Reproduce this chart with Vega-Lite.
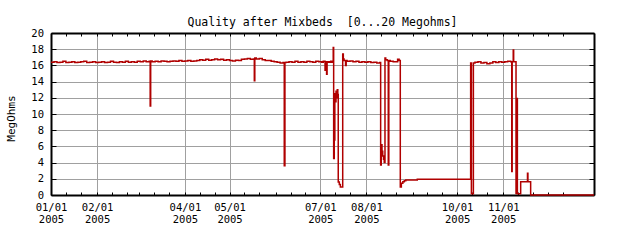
{
  "$schema": "https://vega.github.io/schema/vega-lite/v6.json",
  "width": 543,
  "height": 162,
  "autosize": "none",
  "padding": {"left": 51, "top": 33, "right": 46, "bottom": 45},
  "background": "white",
  "title": {"text": "Quality after Mixbeds\u00a0 [0...20 Megohms]", "font": "DejaVu Sans Mono", "fontSize": 11.5, "fontWeight": "normal", "color": "black", "anchor": "middle", "offset": 10, "baseline": "alphabetic", "dy": 19},
  "config": {"view": {"stroke": null}},
  "data": {"values": [
    {"t": "2005-01-01T00:00:00", "v": 16.4}, {"t": "2005-01-03T00:00:00", "v": 16.45}, {"t": "2005-01-05T00:00:00", "v": 16.35}, {"t": "2005-01-07T00:00:00", "v": 16.4},
    {"t": "2005-01-09T00:00:00", "v": 16.5}, {"t": "2005-01-11T00:00:00", "v": 16.35}, {"t": "2005-01-13T00:00:00", "v": 16.4}, {"t": "2005-01-15T00:00:00", "v": 16.45},
    {"t": "2005-01-17T00:00:00", "v": 16.35}, {"t": "2005-01-19T00:00:00", "v": 16.4}, {"t": "2005-01-21T00:00:00", "v": 16.45}, {"t": "2005-01-23T00:00:00", "v": 16.5},
    {"t": "2005-01-25T00:00:00", "v": 16.35}, {"t": "2005-01-27T00:00:00", "v": 16.4}, {"t": "2005-01-29T00:00:00", "v": 16.45}, {"t": "2005-01-31T00:00:00", "v": 16.35},
    {"t": "2005-02-02T00:00:00", "v": 16.4}, {"t": "2005-02-04T00:00:00", "v": 16.45}, {"t": "2005-02-06T00:00:00", "v": 16.35}, {"t": "2005-02-08T00:00:00", "v": 16.4},
    {"t": "2005-02-10T00:00:00", "v": 16.5}, {"t": "2005-02-12T00:00:00", "v": 16.4}, {"t": "2005-02-14T00:00:00", "v": 16.35}, {"t": "2005-02-16T00:00:00", "v": 16.45},
    {"t": "2005-02-18T00:00:00", "v": 16.4}, {"t": "2005-02-20T00:00:00", "v": 16.5}, {"t": "2005-02-22T00:00:00", "v": 16.4}, {"t": "2005-02-24T00:00:00", "v": 16.45},
    {"t": "2005-02-26T00:00:00", "v": 16.4}, {"t": "2005-02-28T00:00:00", "v": 16.5}, {"t": "2005-03-02T00:00:00", "v": 16.45}, {"t": "2005-03-04T00:00:00", "v": 16.55},
    {"t": "2005-03-06T00:00:00", "v": 16.45}, {"t": "2005-03-08T00:00:00", "v": 16.5}, {"t": "2005-03-08T16:00:00", "v": 11.0}, {"t": "2005-03-09T00:00:00", "v": 16.55},
    {"t": "2005-03-10T00:00:00", "v": 16.45}, {"t": "2005-03-12T00:00:00", "v": 16.5}, {"t": "2005-03-14T00:00:00", "v": 16.45}, {"t": "2005-03-16T00:00:00", "v": 16.55},
    {"t": "2005-03-18T00:00:00", "v": 16.5}, {"t": "2005-03-20T00:00:00", "v": 16.45}, {"t": "2005-03-22T00:00:00", "v": 16.5}, {"t": "2005-03-24T00:00:00", "v": 16.55},
    {"t": "2005-03-26T00:00:00", "v": 16.5}, {"t": "2005-03-28T00:00:00", "v": 16.6}, {"t": "2005-03-30T00:00:00", "v": 16.5}, {"t": "2005-04-01T00:00:00", "v": 16.55},
    {"t": "2005-04-03T00:00:00", "v": 16.6}, {"t": "2005-04-05T00:00:00", "v": 16.5}, {"t": "2005-04-07T00:00:00", "v": 16.55}, {"t": "2005-04-09T00:00:00", "v": 16.6},
    {"t": "2005-04-11T00:00:00", "v": 16.7}, {"t": "2005-04-13T00:00:00", "v": 16.65}, {"t": "2005-04-15T00:00:00", "v": 16.75}, {"t": "2005-04-17T00:00:00", "v": 16.65},
    {"t": "2005-04-19T00:00:00", "v": 16.7}, {"t": "2005-04-21T00:00:00", "v": 16.8}, {"t": "2005-04-23T00:00:00", "v": 16.7}, {"t": "2005-04-25T00:00:00", "v": 16.75},
    {"t": "2005-04-27T00:00:00", "v": 16.65}, {"t": "2005-04-29T00:00:00", "v": 16.7}, {"t": "2005-05-01T00:00:00", "v": 16.6}, {"t": "2005-05-03T00:00:00", "v": 16.55},
    {"t": "2005-05-05T00:00:00", "v": 16.65}, {"t": "2005-05-07T00:00:00", "v": 16.6}, {"t": "2005-05-09T00:00:00", "v": 16.75}, {"t": "2005-05-11T00:00:00", "v": 16.8},
    {"t": "2005-05-13T00:00:00", "v": 16.85}, {"t": "2005-05-15T00:00:00", "v": 16.75}, {"t": "2005-05-17T00:00:00", "v": 16.8}, {"t": "2005-05-17T16:00:00", "v": 14.1},
    {"t": "2005-05-18T00:00:00", "v": 16.9}, {"t": "2005-05-19T00:00:00", "v": 16.8}, {"t": "2005-05-21T00:00:00", "v": 16.85}, {"t": "2005-05-23T00:00:00", "v": 16.7},
    {"t": "2005-05-25T00:00:00", "v": 16.6}, {"t": "2005-05-27T00:00:00", "v": 16.6}, {"t": "2005-05-29T00:00:00", "v": 16.5}, {"t": "2005-05-31T00:00:00", "v": 16.45},
    {"t": "2005-06-02T00:00:00", "v": 16.4}, {"t": "2005-06-04T00:00:00", "v": 16.3}, {"t": "2005-06-06T00:00:00", "v": 16.35}, {"t": "2005-06-06T19:00:00", "v": 3.6},
    {"t": "2005-06-07T06:00:00", "v": 16.35}, {"t": "2005-06-08T00:00:00", "v": 16.4}, {"t": "2005-06-10T00:00:00", "v": 16.45}, {"t": "2005-06-12T00:00:00", "v": 16.4},
    {"t": "2005-06-14T00:00:00", "v": 16.5}, {"t": "2005-06-16T00:00:00", "v": 16.4}, {"t": "2005-06-18T00:00:00", "v": 16.45}, {"t": "2005-06-20T00:00:00", "v": 16.4},
    {"t": "2005-06-22T00:00:00", "v": 16.5}, {"t": "2005-06-24T00:00:00", "v": 16.45}, {"t": "2005-06-26T00:00:00", "v": 16.4}, {"t": "2005-06-28T00:00:00", "v": 16.5},
    {"t": "2005-06-30T00:00:00", "v": 16.45}, {"t": "2005-07-02T00:00:00", "v": 16.4}, {"t": "2005-07-03T00:00:00", "v": 16.5}, {"t": "2005-07-04T05:00:00", "v": 15.4},
    {"t": "2005-07-04T12:00:00", "v": 16.45}, {"t": "2005-07-05T06:00:00", "v": 14.9}, {"t": "2005-07-05T14:00:00", "v": 16.4}, {"t": "2005-07-06T00:00:00", "v": 16.45},
    {"t": "2005-07-07T00:00:00", "v": 16.4}, {"t": "2005-07-08T00:00:00", "v": 16.5}, {"t": "2005-07-09T00:00:00", "v": 16.4}, {"t": "2005-07-09T17:00:00", "v": 18.2},
    {"t": "2005-07-10T00:00:00", "v": 4.5}, {"t": "2005-07-10T10:00:00", "v": 6.8}, {"t": "2005-07-10T19:00:00", "v": 12.5}, {"t": "2005-07-11T05:00:00", "v": 11.5},
    {"t": "2005-07-11T14:00:00", "v": 12.8}, {"t": "2005-07-12T00:00:00", "v": 12.0}, {"t": "2005-07-12T10:00:00", "v": 13.0}, {"t": "2005-07-12T19:00:00", "v": 12.4},
    {"t": "2005-07-13T02:00:00", "v": 1.6}, {"t": "2005-07-13T19:00:00", "v": 1.3}, {"t": "2005-07-14T12:00:00", "v": 1.0}, {"t": "2005-07-16T02:00:00", "v": 17.4},
    {"t": "2005-07-16T12:00:00", "v": 16.8}, {"t": "2005-07-17T00:00:00", "v": 16.6}, {"t": "2005-07-18T00:00:00", "v": 16.0}, {"t": "2005-07-18T10:00:00", "v": 16.6},
    {"t": "2005-07-19T00:00:00", "v": 16.5}, {"t": "2005-07-21T00:00:00", "v": 16.55}, {"t": "2005-07-23T00:00:00", "v": 16.45}, {"t": "2005-07-25T00:00:00", "v": 16.5},
    {"t": "2005-07-27T00:00:00", "v": 16.4}, {"t": "2005-07-29T00:00:00", "v": 16.45}, {"t": "2005-07-31T00:00:00", "v": 16.4}, {"t": "2005-08-02T00:00:00", "v": 16.45},
    {"t": "2005-08-04T00:00:00", "v": 16.35}, {"t": "2005-08-06T00:00:00", "v": 16.4}, {"t": "2005-08-08T00:00:00", "v": 16.3}, {"t": "2005-08-10T00:00:00", "v": 16.35},
    {"t": "2005-08-10T14:00:00", "v": 3.7}, {"t": "2005-08-11T00:00:00", "v": 6.2}, {"t": "2005-08-11T12:00:00", "v": 5.4}, {"t": "2005-08-12T00:00:00", "v": 4.8},
    {"t": "2005-08-12T12:00:00", "v": 4.4}, {"t": "2005-08-13T00:00:00", "v": 4.0}, {"t": "2005-08-13T12:00:00", "v": 16.9}, {"t": "2005-08-14T00:00:00", "v": 16.7},
    {"t": "2005-08-15T00:00:00", "v": 16.6}, {"t": "2005-08-15T17:00:00", "v": 3.7}, {"t": "2005-08-16T02:00:00", "v": 16.6}, {"t": "2005-08-17T00:00:00", "v": 16.5},
    {"t": "2005-08-19T00:00:00", "v": 16.45}, {"t": "2005-08-21T00:00:00", "v": 16.45}, {"t": "2005-08-22T00:00:00", "v": 16.75}, {"t": "2005-08-23T00:00:00", "v": 16.6},
    {"t": "2005-08-23T19:00:00", "v": 1.0}, {"t": "2005-08-24T12:00:00", "v": 1.45}, {"t": "2005-08-25T12:00:00", "v": 1.65}, {"t": "2005-08-26T12:00:00", "v": 1.77},
    {"t": "2005-08-27T12:00:00", "v": 1.85}, {"t": "2005-09-04T05:00:00", "v": 1.93}, {"t": "2005-10-10T02:00:00", "v": 16.3}, {"t": "2005-10-10T14:00:00", "v": 0.15},
    {"t": "2005-10-11T22:00:00", "v": 16.3}, {"t": "2005-10-13T00:00:00", "v": 16.4}, {"t": "2005-10-15T00:00:00", "v": 16.45}, {"t": "2005-10-17T00:00:00", "v": 16.3},
    {"t": "2005-10-19T00:00:00", "v": 16.35}, {"t": "2005-10-21T00:00:00", "v": 16.2}, {"t": "2005-10-23T00:00:00", "v": 16.3}, {"t": "2005-10-25T00:00:00", "v": 16.45},
    {"t": "2005-10-27T00:00:00", "v": 16.35}, {"t": "2005-10-29T00:00:00", "v": 16.45}, {"t": "2005-10-31T00:00:00", "v": 16.4}, {"t": "2005-11-02T00:00:00", "v": 16.45},
    {"t": "2005-11-04T00:00:00", "v": 16.5}, {"t": "2005-11-06T00:00:00", "v": 16.45}, {"t": "2005-11-06T17:00:00", "v": 2.9}, {"t": "2005-11-07T00:00:00", "v": 16.45},
    {"t": "2005-11-07T17:00:00", "v": 17.9}, {"t": "2005-11-08T00:00:00", "v": 16.45}, {"t": "2005-11-09T14:00:00", "v": 0.2}, {"t": "2005-11-10T02:00:00", "v": 11.9},
    {"t": "2005-11-10T12:00:00", "v": 0.15}, {"t": "2005-11-12T17:00:00", "v": 1.65}, {"t": "2005-11-17T07:00:00", "v": 2.7}, {"t": "2005-11-17T14:00:00", "v": 1.65},
    {"t": "2005-11-19T10:00:00", "v": 0}, {"t": "2006-01-01T00:00:00", "v": 0}
  ]},
  "layer": [
    {
      "mark": {"type": "line", "opacity": 0},
      "encoding": {
        "x": {"field": "t", "type": "temporal",
          "scale": {"domain": [{"year": 2005, "month": 1, "date": 1}, {"year": 2006, "month": 1, "date": 1}], "nice": false},
          "axis": {"orient": "bottom", "title": null,
            "values": [{"year":2005,"month":1,"date":1},{"year":2005,"month":1,"date":11},{"year":2005,"month":1,"date":21},
              {"year":2005,"month":2,"date":1},{"year":2005,"month":2,"date":11},{"year":2005,"month":2,"date":21},
              {"year":2005,"month":3,"date":1},{"year":2005,"month":3,"date":11},{"year":2005,"month":3,"date":21},
              {"year":2005,"month":4,"date":1},{"year":2005,"month":4,"date":11},{"year":2005,"month":4,"date":21},
              {"year":2005,"month":5,"date":1},{"year":2005,"month":5,"date":11},{"year":2005,"month":5,"date":21},
              {"year":2005,"month":6,"date":1},{"year":2005,"month":6,"date":11},{"year":2005,"month":6,"date":21},
              {"year":2005,"month":7,"date":1},{"year":2005,"month":7,"date":11},{"year":2005,"month":7,"date":21},
              {"year":2005,"month":8,"date":1},{"year":2005,"month":8,"date":11},{"year":2005,"month":8,"date":21},
              {"year":2005,"month":9,"date":1},{"year":2005,"month":9,"date":11},{"year":2005,"month":9,"date":21},
              {"year":2005,"month":10,"date":1},{"year":2005,"month":10,"date":11},{"year":2005,"month":10,"date":21},
              {"year":2005,"month":11,"date":1},{"year":2005,"month":11,"date":11},{"year":2005,"month":11,"date":21},
              {"year":2005,"month":12,"date":1},{"year":2005,"month":12,"date":11}],
            "grid": true, "gridColor": "#a0a0a0", "gridWidth": 1,
            "gridOpacity": {"condition": {"test": "date(datum.value) == 1 && indexof([0,1,3,4,6,7,9,10], month(datum.value)) >= 0", "value": 1}, "value": 0},
            "tickSize": -3, "tickColor": "black", "tickWidth": 1,
            "domainColor": "black", "domainWidth": 2,
            "labelExpr": "date(datum.value) == 1 && indexof([0,1,3,4,6,7,9,10], month(datum.value)) >= 0 ? [timeFormat(datum.value, '%m/%d'), timeFormat(datum.value, '%Y')] : ''",
            "labelFont": "DejaVu Sans Mono", "labelFontSize": 10.5, "labelColor": "black", "labelPadding": 10, "labelLineHeight": 12,
            "labelBaseline": "top", "labelAlign": "center", "labelFlush": false, "labelOverlap": false}},
        "y": {"field": "v", "type": "quantitative",
          "scale": {"domain": [0, 20], "nice": false},
          "axis": {"orient": "left", "title": "MegOhms", "titleFont": "DejaVu Sans Mono", "titleFontSize": 11, "titleFontWeight": "normal", "titleColor": "black",
            "titleX": -40, "titleY": 85, "titleBaseline": "middle", "titleAlign": "center", "titleAngle": -90,
            "values": [0, 2, 4, 6, 8, 10, 12, 14, 16, 18, 20],
            "grid": true, "gridColor": "#a0a0a0", "gridWidth": 1,
            "tickSize": -5, "tickColor": "black", "tickWidth": 1,
            "domainColor": "black", "domainWidth": 2,
            "labelFont": "DejaVu Sans Mono", "labelFontSize": 10.5, "labelColor": "black", "labelPadding": 12.5, "labelAlign": "right", "labelBaseline": "middle"}}
      }
    },
    {
      "mark": {"type": "line", "color": "#b00000", "strokeWidth": 1.5, "interpolate": "step-after"},
      "encoding": {
        "x": {"field": "t", "type": "temporal",
          "axis": {"orient": "top", "title": null, "labels": false, "grid": false,
            "values": [{"year":2005,"month":1,"date":1},{"year":2005,"month":1,"date":11},{"year":2005,"month":1,"date":21},
              {"year":2005,"month":2,"date":1},{"year":2005,"month":2,"date":11},{"year":2005,"month":2,"date":21},
              {"year":2005,"month":3,"date":1},{"year":2005,"month":3,"date":11},{"year":2005,"month":3,"date":21},
              {"year":2005,"month":4,"date":1},{"year":2005,"month":4,"date":11},{"year":2005,"month":4,"date":21},
              {"year":2005,"month":5,"date":1},{"year":2005,"month":5,"date":11},{"year":2005,"month":5,"date":21},
              {"year":2005,"month":6,"date":1},{"year":2005,"month":6,"date":11},{"year":2005,"month":6,"date":21},
              {"year":2005,"month":7,"date":1},{"year":2005,"month":7,"date":11},{"year":2005,"month":7,"date":21},
              {"year":2005,"month":8,"date":1},{"year":2005,"month":8,"date":11},{"year":2005,"month":8,"date":21},
              {"year":2005,"month":9,"date":1},{"year":2005,"month":9,"date":11},{"year":2005,"month":9,"date":21},
              {"year":2005,"month":10,"date":1},{"year":2005,"month":10,"date":11},{"year":2005,"month":10,"date":21},
              {"year":2005,"month":11,"date":1},{"year":2005,"month":11,"date":11},{"year":2005,"month":11,"date":21},
              {"year":2005,"month":12,"date":1},{"year":2005,"month":12,"date":11}],
            "tickSize": -3, "tickColor": "black", "tickWidth": 1, "domainColor": "black", "domainWidth": 2}},
        "y": {"field": "v", "type": "quantitative",
          "axis": {"orient": "right", "title": null, "labels": false, "grid": false,
            "values": [0, 2, 4, 6, 8, 10, 12, 14, 16, 18, 20],
            "tickSize": -5, "tickColor": "black", "tickWidth": 1, "domainColor": "black", "domainWidth": 2}}
      }
    }
  ],
  "resolve": {"axis": {"x": "independent", "y": "independent"}}
}
